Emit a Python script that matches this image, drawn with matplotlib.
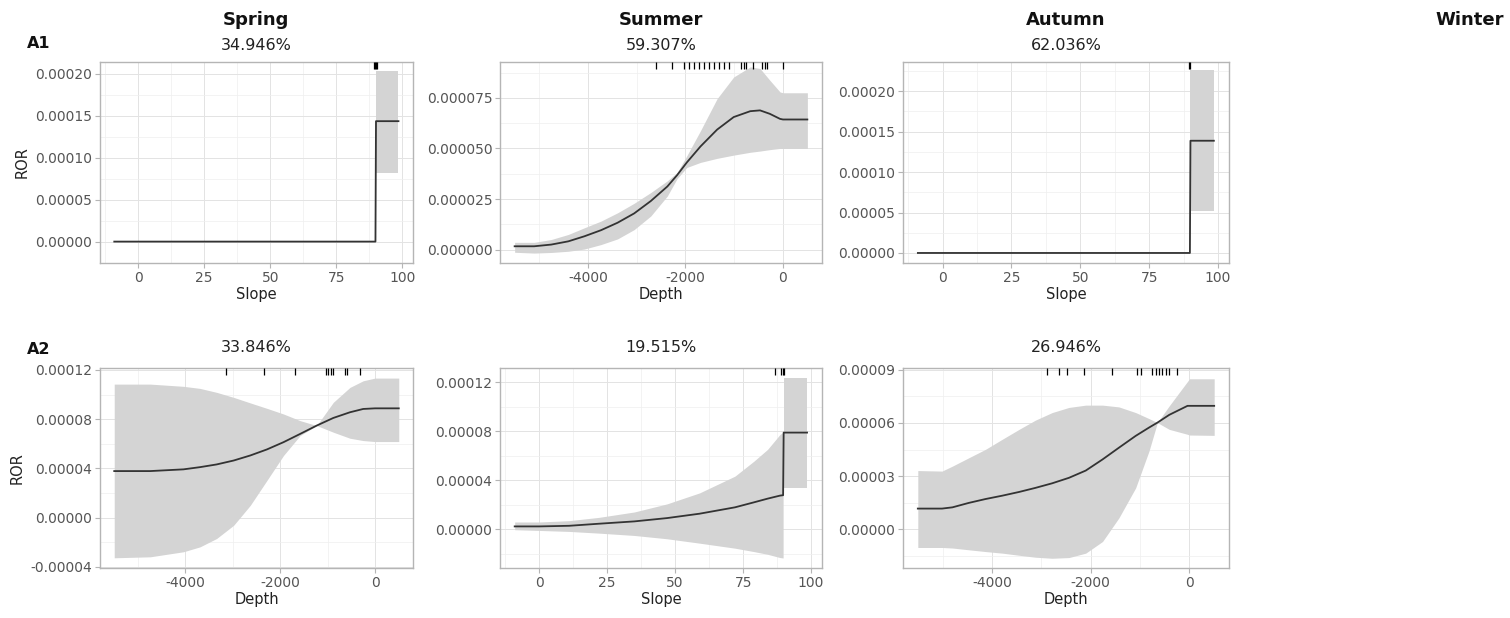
import numpy as np
import matplotlib
matplotlib.use("Agg")
import matplotlib.pyplot as plt
from matplotlib.ticker import AutoMinorLocator, FormatStrFormatter

plt.rcParams["axes.unicode_minus"] = False

# ---------------- data ----------------
seasons = ["Spring", "Summer", "Autumn", "Winter"]
row_labels = ["A1", "A2"]
pct_a1 = ["34.946%", "59.307%", "62.036%"]
pct_a2 = ["33.846%", "19.515%", "26.946%"]

# A1 Spring (Slope)
sp1_x = [-9, 89.8]
sp1_fit = [0.0, 0.0]
sp1_block_x = [90, 98.5]
sp1_block_fit = 0.0001435
sp1_block_lo = 0.000082
sp1_block_hi = 0.0002035
sp1_rug = [89.3, 89.6, 89.9, 90.2]

# A1 Summer (Depth)
su1_x = [-5500, -5100, -4750, -4400, -4070, -3730, -3390, -3050, -2710, -2370, -2170, -1970, -1690,
         -1350, -1010, -670, -470, -270, -60, 0, 500]
su1_fit = [1.66e-6, 1.66e-6, 2.5e-6, 4.1e-6, 6.6e-6, 9.6e-6, 1.33e-5, 1.79e-5, 2.4e-5, 3.12e-5, 3.68e-5,
           4.31e-5, 5.1e-5, 5.93e-5, 6.55e-5, 6.84e-5, 6.88e-5, 6.71e-5, 6.46e-5, 6.43e-5, 6.43e-5]
su1_hi = [3.6e-6, 3.6e-6, 5.0e-6, 7.5e-6, 1.08e-5, 1.41e-5, 1.82e-5, 2.29e-5, 2.82e-5, 3.4e-5, 3.81e-5,
          4.64e-5, 5.88e-5, 7.46e-5, 8.53e-5, 9.03e-5, 8.95e-5, 8.37e-5, 7.79e-5, 7.75e-5, 7.75e-5]
su1_lo = [-1.3e-6, -1.7e-6, -1.4e-6, -8e-7, 3e-7, 2.5e-6, 5.3e-6, 9.9e-6, 1.66e-5, 2.65e-5, 3.51e-5,
          4.06e-5, 4.31e-5, 4.51e-5, 4.67e-5, 4.81e-5, 4.87e-5, 4.94e-5, 5.0e-5, 5.0e-5, 5.0e-5]
su1_rug = [-2611, -2271, -2033, -1931, -1829, -1727, -1625, -1523, -1421, -1319, -1217, -1115,
           -864, -809, -755, -605, -422, -367, -320, -7]

# A1 Autumn (Slope)
au1_x = [-9, 89.8]
au1_fit = [0.0, 0.0]
au1_block_x = [90, 98.5]
au1_block_fit = 0.0001387
au1_block_lo = 0.0000518
au1_block_hi = 0.0002265
au1_rug = [89.6, 89.9]

# A2 Spring (Depth)
sp2_x = [-5500, -4740, -4040, -3690, -3340, -2980, -2630, -2280, -1930, -1580, -1230, -880, -530, -250, 0, 500]
sp2_fit = [3.78e-5, 3.78e-5, 3.92e-5, 4.1e-5, 4.32e-5, 4.64e-5, 5.05e-5, 5.54e-5, 6.13e-5, 6.8e-5, 7.48e-5,
           8.1e-5, 8.56e-5, 8.83e-5, 8.88e-5, 8.88e-5]
sp2_hi = [1.085e-4, 1.085e-4, 1.067e-4, 1.05e-4, 1.018e-4, 9.77e-5, 9.32e-5, 8.88e-5, 8.42e-5, 7.88e-5, 7.48e-5,
          9.37e-5, 1.058e-4, 1.112e-4, 1.134e-4, 1.134e-4]
sp2_lo = [-3.27e-5, -3.19e-5, -2.78e-5, -2.38e-5, -1.7e-5, -6.2e-6, 1.0e-5, 3.02e-5, 5.05e-5, 6.67e-5, 7.48e-5,
          6.94e-5, 6.45e-5, 6.26e-5, 6.18e-5, 6.18e-5]
sp2_rug = [-3138, -2338, -1685, -1032, -983, -934, -878, -632, -583, -316]

# A2 Summer (Slope)
su2_x = [-9, 0, 11, 22, 35, 47, 59, 72, 79, 84, 88.6, 89.7]
su2_fit = [2.2e-6, 2.2e-6, 2.7e-6, 4.4e-6, 6.3e-6, 9.0e-6, 1.26e-5, 1.78e-5, 2.19e-5, 2.49e-5, 2.74e-5, 2.77e-5]
su2_hi = [5.8e-6, 5.8e-6, 6.9e-6, 9.6e-6, 1.4e-5, 2.06e-5, 2.96e-5, 4.33e-5, 5.56e-5, 6.52e-5, 7.75e-5, 7.9e-5]
su2_lo = [-5e-7, -1.1e-6, -1.9e-6, -3.3e-6, -5.2e-6, -7.9e-6, -1.15e-5, -1.56e-5, -1.84e-5, -2.06e-5, -2.33e-5, -2.36e-5]
su2_block_x = [89.9, 98.5]
su2_block_fit = 7.89e-5
su2_block_lo = 3.32e-5
su2_block_hi = 1.236e-4
su2_rug = [86.7, 88.9, 89.6, 89.9]

# A2 Autumn (Depth)
au2_x = [-5500, -5010, -4800, -4470, -4130, -3790, -3450, -3120, -2780, -2440, -2100, -1760, -1430, -1090,
         -820, -650, -410, -40, 0, 500]
au2_fit = [1.16e-5, 1.16e-5, 1.23e-5, 1.48e-5, 1.7e-5, 1.89e-5, 2.1e-5, 2.33e-5, 2.59e-5, 2.9e-5, 3.31e-5,
           3.94e-5, 4.6e-5, 5.27e-5, 5.74e-5, 6.02e-5, 6.46e-5, 6.97e-5, 6.97e-5, 6.97e-5]
au2_hi = [3.31e-5, 3.28e-5, 3.56e-5, 4.03e-5, 4.51e-5, 5.08e-5, 5.64e-5, 6.16e-5, 6.59e-5, 6.88e-5, 7.01e-5,
          7.01e-5, 6.91e-5, 6.59e-5, 6.25e-5, 6.02e-5, 6.97e-5, 8.35e-5, 8.5e-5, 8.5e-5]
au2_lo = [-1.04e-5, -1.04e-5, -1.07e-5, -1.17e-5, -1.27e-5, -1.36e-5, -1.48e-5, -1.59e-5, -1.65e-5, -1.61e-5,
          -1.36e-5, -7e-6, 6.3e-6, 2.33e-5, 4.41e-5, 6.02e-5, 5.64e-5, 5.36e-5, 5.32e-5, 5.3e-5]
au2_rug = [-2878, -2642, -2487, -2135, -1561, -1054, -987, -750, -682, -615, -547, -480, -412, -243]

# ---------------- figure ----------------
W, H = 1510, 618
fig = plt.figure(figsize=(W / 100, H / 100), dpi=100)

LINE_C = "#333333"
RIB_C = "#d4d4d4"
GRID_C = "#e3e3e3"
BORDER_C = "#b5b5b5"
TICK_C = "#555555"


def add_ax(x0, y0, x1, y1):
    return fig.add_axes([x0 / W, 1 - y1 / H, (x1 - x0) / W, (y1 - y0) / H])


def style(ax, xlim, ylim, yticks, fmt, xticks, xlabel, ylabel=None):
    ax.set_xlim(*xlim)
    ax.set_ylim(*ylim)
    ax.set_yticks(yticks)
    ax.set_xticks(xticks)
    ax.yaxis.set_major_formatter(FormatStrFormatter(fmt))
    ax.xaxis.set_minor_locator(AutoMinorLocator(2))
    ax.yaxis.set_minor_locator(AutoMinorLocator(2))
    ax.grid(True, which="major", color=GRID_C, lw=0.7, zorder=0)
    ax.grid(True, which="minor", color="#efefef", lw=0.5, zorder=0)
    ax.set_axisbelow(True)
    for s in ax.spines.values():
        s.set_color(BORDER_C)
        s.set_linewidth(1.0)
    ax.tick_params(which="major", length=3.5, color=BORDER_C, labelcolor=TICK_C, labelsize=10, pad=2)
    ax.tick_params(which="minor", length=0)
    ax.set_xlabel(xlabel, fontsize=10.5, color="#222222", labelpad=2)
    if ylabel:
        ax.set_ylabel(ylabel, fontsize=10.5, color="#222222", labelpad=4)


def rug(ax, xs):
    ax.vlines(xs, 0.965, 1.0, transform=ax.get_xaxis_transform(), color="black", lw=0.9, zorder=5)


cols = [(100, 413), (500, 822), (903, 1229)]
row1 = (62, 263)
row2 = (368, 568)
depth_xlim = (-5800, 800)
slope_xlim = (-14.4, 104)
depth_ticks = [-4000, -2000, 0]
slope_ticks = [0, 25, 50, 75, 100]

# A1 Spring
ax = add_ax(cols[0][0], row1[0], cols[0][1], row1[1])
ax.fill_between(sp1_block_x, sp1_block_lo, sp1_block_hi, color=RIB_C, lw=0, zorder=2)
ax.plot(sp1_x + sp1_block_x, sp1_fit + [sp1_block_fit] * 2, color=LINE_C, lw=1.3, zorder=3)
rug(ax, sp1_rug)
style(ax, slope_xlim, (-0.0000255, 0.000214), [0, 0.00005, 0.0001, 0.00015, 0.0002], "%.5f",
      slope_ticks, "Slope", "ROR")

# A1 Summer
ax = add_ax(cols[1][0], row1[0], cols[1][1], row1[1])
ax.fill_between(su1_x, su1_lo, su1_hi, color=RIB_C, lw=0, zorder=2)
ax.plot(su1_x, su1_fit, color=LINE_C, lw=1.3, zorder=3)
rug(ax, su1_rug)
style(ax, depth_xlim, (-0.0000066, 0.0000927), [0, 0.000025, 0.00005, 0.000075], "%.6f",
      depth_ticks, "Depth")

# A1 Autumn
ax = add_ax(cols[2][0], row1[0], cols[2][1], row1[1])
ax.fill_between(au1_block_x, au1_block_lo, au1_block_hi, color=RIB_C, lw=0, zorder=2)
ax.plot(au1_x + au1_block_x, au1_fit + [au1_block_fit] * 2, color=LINE_C, lw=1.3, zorder=3)
rug(ax, au1_rug)
style(ax, slope_xlim, (-0.0000124, 0.000236), [0, 0.00005, 0.0001, 0.00015, 0.0002], "%.5f",
      slope_ticks, "Slope")

# A2 Spring
ax = add_ax(cols[0][0], row2[0], cols[0][1], row2[1])
ax.fill_between(sp2_x, sp2_lo, sp2_hi, color=RIB_C, lw=0, zorder=2)
ax.plot(sp2_x, sp2_fit, color=LINE_C, lw=1.3, zorder=3)
rug(ax, sp2_rug)
style(ax, depth_xlim, (-0.000041, 0.0001216), [-0.00004, 0, 0.00004, 0.00008, 0.00012], "%.5f",
      depth_ticks, "Depth", "ROR")

# A2 Summer
ax = add_ax(cols[1][0], row2[0], cols[1][1], row2[1])
ax.fill_between(su2_x, su2_lo, su2_hi, color=RIB_C, lw=0, zorder=2)
ax.fill_between(su2_block_x, su2_block_lo, su2_block_hi, color=RIB_C, lw=0, zorder=2)
ax.plot(su2_x + su2_block_x, su2_fit + [su2_block_fit] * 2, color=LINE_C, lw=1.3, zorder=3)
rug(ax, su2_rug)
style(ax, slope_xlim, (-0.0000318, 0.0001317), [0, 0.00004, 0.00008, 0.00012], "%.5f",
      slope_ticks, "Slope")

# A2 Autumn
ax = add_ax(cols[2][0], row2[0], cols[2][1], row2[1])
ax.fill_between(au2_x, au2_lo, au2_hi, color=RIB_C, lw=0, zorder=2)
ax.plot(au2_x, au2_fit, color=LINE_C, lw=1.3, zorder=3)
rug(ax, au2_rug)
style(ax, depth_xlim, (-0.000022, 0.0000911), [0, 0.00003, 0.00006, 0.00009], "%.5f",
      depth_ticks, "Depth")

# titles
season_x = [256, 661, 1066, 1470]
for sx, name in zip(season_x, seasons):
    fig.text(sx / W, 1 - 20 / H, name, ha="center", va="center", fontsize=13, fontweight="bold", color="#111111")
for (c0, c1), p in zip(cols, pct_a1):
    fig.text((c0 + c1) / 2 / W, 1 - 46 / H, p, ha="center", va="center", fontsize=11.5, color="#222222")
for (c0, c1), p in zip(cols, pct_a2):
    fig.text((c0 + c1) / 2 / W, 1 - 347 / H, p, ha="center", va="center", fontsize=11.5, color="#222222")
fig.text(27 / W, 1 - 43 / H, row_labels[0], ha="left", va="center", fontsize=11.5, fontweight="bold", color="#111111")
fig.text(27 / W, 1 - 350 / H, row_labels[1], ha="left", va="center", fontsize=11.5, fontweight="bold", color="#111111")

fig.savefig("out.png", dpi=100, facecolor="white")
